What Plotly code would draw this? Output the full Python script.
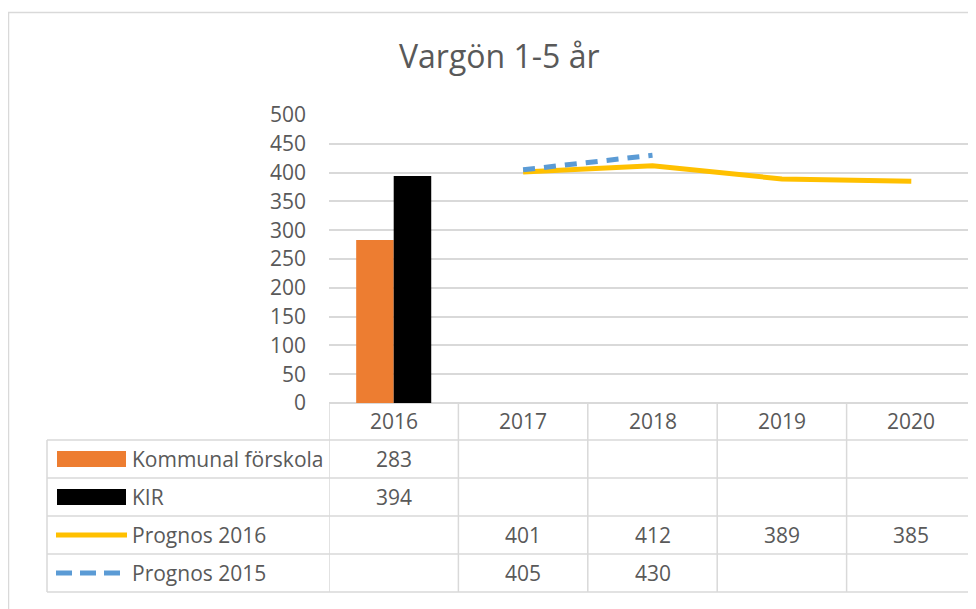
import plotly.graph_objects as go

# ---- data ----
years = ["2016", "2017", "2018", "2019", "2020"]
kommunal = [283, None, None, None, None]
kir = [394, None, None, None, None]
prognos_2016 = [None, 401, 412, 389, 385]
prognos_2015 = [None, 405, 430, None, None]
series_names = ["Kommunal förskola", "KIR", "Prognos 2016", "Prognos 2015"]
title_text = "Vargön 1-5 år"

ORANGE = "#ED7D31"
BLACK = "#000000"
YELLOW = "#FFC000"
BLUE = "#5B9BD5"
TXT = "#595959"
GRID = "#D9D9D9"
FONT = "Open Sans"

# the page body has an 8px margin; work in window pixels and convert
OFF = 8
W, H = 976 - OFF, 609 - OFF
PLOT_L, PLOT_T, PLOT_B = 329, 115, 403  # window pixels
ML, MR = PLOT_L - OFF, 0
MT, MB = PLOT_T - OFF, (OFF + H) - PLOT_B
PW, PH = W - ML - MR, H - MT - MB


def px_x(p):
    return (p - PLOT_L) / PW


def px_y(p):
    return (PLOT_B - p) / PH


xi = list(range(len(years)))

fig = go.Figure()
fig.add_trace(go.Bar(x=xi, y=kommunal, name=series_names[0], marker=dict(color=ORANGE, line=dict(width=0))))
fig.add_trace(go.Bar(x=xi, y=kir, name=series_names[1], marker=dict(color=BLACK, line=dict(width=0))))
fig.add_trace(go.Scatter(x=xi, y=prognos_2016, name=series_names[2], mode="lines",
                         line=dict(color=YELLOW, width=5)))
fig.add_trace(go.Scatter(x=xi, y=prognos_2015, name=series_names[3], mode="lines",
                         line=dict(color=BLUE, width=5, dash="12px,9px")))

shapes = []
# outer chart border
shapes.append(dict(type="rect", xref="paper", yref="paper",
                   x0=px_x(8.5), x1=px_x(995), y0=px_y(640), y1=px_y(12.5),
                   line=dict(color=GRID, width=1.5), fillcolor="rgba(0,0,0,0)", layer="below"))

# table geometry (window pixels)
header_top = 403
row_tops = [440, 478, 516, 554]
row_bottom = 592
legend_left = 47
row_centers = [459, 497, 535, 573]

for yt in row_tops + [row_bottom]:
    shapes.append(dict(type="line", xref="paper", yref="paper",
                       x0=px_x(legend_left), x1=1.02, y0=px_y(yt), y1=px_y(yt),
                       line=dict(color=GRID, width=1.5)))
for i in range(len(years)):
    shapes.append(dict(type="line", xref="x", yref="paper",
                       x0=i - 0.5, x1=i - 0.5, y0=px_y(header_top), y1=px_y(row_bottom),
                       line=dict(color=GRID, width=1.5)))
shapes.append(dict(type="line", xref="paper", yref="paper",
                   x0=px_x(legend_left), x1=px_x(legend_left), y0=px_y(row_tops[0]), y1=px_y(row_bottom),
                   line=dict(color=GRID, width=1.5)))

# legend keys
key_x0, key_x1 = 57, 126
shapes.append(dict(type="rect", xref="paper", yref="paper",
                   x0=px_x(key_x0), x1=px_x(key_x1), y0=px_y(row_centers[0] + 8), y1=px_y(row_centers[0] - 8),
                   fillcolor=ORANGE, line=dict(width=0)))
shapes.append(dict(type="rect", xref="paper", yref="paper",
                   x0=px_x(key_x0), x1=px_x(key_x1), y0=px_y(row_centers[1] + 8), y1=px_y(row_centers[1] - 8),
                   fillcolor=BLACK, line=dict(width=0)))
shapes.append(dict(type="line", xref="paper", yref="paper",
                   x0=px_x(56), x1=px_x(127), y0=px_y(row_centers[2]), y1=px_y(row_centers[2]),
                   line=dict(color=YELLOW, width=5)))
shapes.append(dict(type="line", xref="paper", yref="paper",
                   x0=px_x(56), x1=px_x(121), y0=px_y(row_centers[3]), y1=px_y(row_centers[3]),
                   line=dict(color=BLUE, width=5, dash="16px,8px")))

FS = 21
annotations = []
annotations.append(dict(text=title_text, xref="paper", yref="paper", x=px_x(499), y=px_y(56),
                        showarrow=False, xanchor="center", yanchor="middle",
                        font=dict(family=FONT, size=32, color=TXT)))
for i, yr in enumerate(years):
    annotations.append(dict(text=yr, xref="x", yref="paper", x=i, y=px_y(421),
                            showarrow=False, xanchor="center", yanchor="middle",
                            font=dict(family=FONT, size=FS, color=TXT)))
all_series = [kommunal, kir, prognos_2016, prognos_2015]
for r, (name, vals) in enumerate(zip(series_names, all_series)):
    annotations.append(dict(text=name, xref="paper", yref="paper", x=px_x(130), y=px_y(row_centers[r]),
                            showarrow=False, xanchor="left", yanchor="middle",
                            font=dict(family=FONT, size=FS, color=TXT)))
    for i, v in enumerate(vals):
        if v is not None:
            annotations.append(dict(text=str(v), xref="x", yref="paper", x=i, y=px_y(row_centers[r]),
                                    showarrow=False, xanchor="center", yanchor="middle",
                                    font=dict(family=FONT, size=FS, color=TXT)))

fig.update_layout(
    width=W, height=H,
    margin=dict(l=ML, r=MR, t=MT, b=MB, pad=0),
    paper_bgcolor="white", plot_bgcolor="white",
    barmode="group", bargap=0.42, bargroupgap=0,
    showlegend=False,
    shapes=shapes, annotations=annotations,
    font=dict(family=FONT, color=TXT),
    xaxis=dict(range=[-0.5, 4.5], showticklabels=False, showgrid=False, zeroline=False,
               showline=False, ticks="", fixedrange=True),
    yaxis=dict(range=[0, 500], dtick=50, tick0=0, showgrid=True, gridcolor=GRID, gridwidth=1.5,
               zeroline=True, zerolinecolor=GRID, zerolinewidth=1.5, showline=False,
               ticks="", ticklabelstandoff=22,
               tickfont=dict(family=FONT, size=FS, color=TXT)),
)

fig.write_html("out.html")
